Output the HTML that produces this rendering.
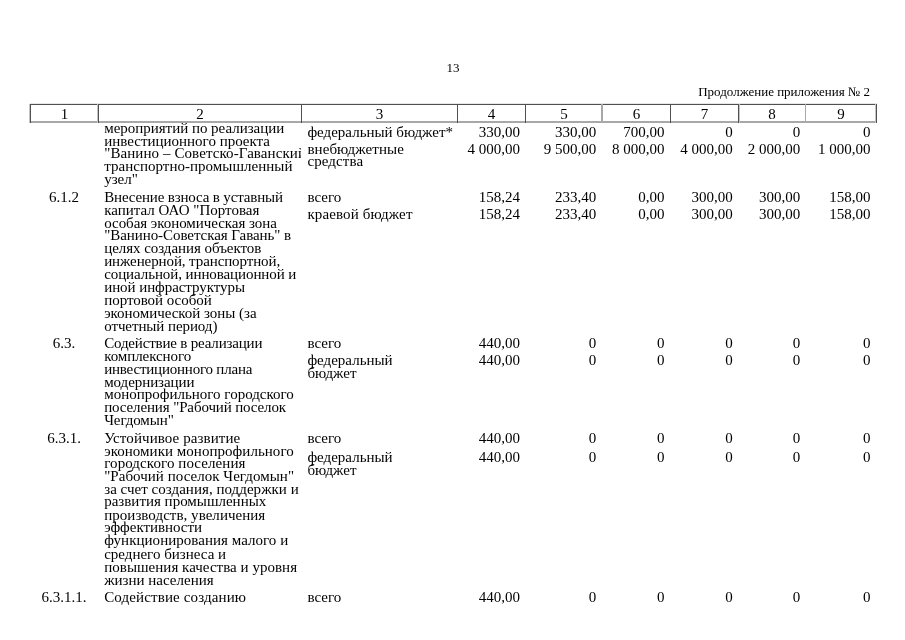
<!DOCTYPE html>
<html><head><meta charset="utf-8"><style>
html,body{margin:0;padding:0;background:#fff;}
body{width:905px;height:640px;position:relative;overflow:hidden;font-family:"Liberation Serif",serif;color:#000;}
#p{position:absolute;left:0;top:0;width:905px;height:640px;will-change:transform;}
.t{position:absolute;white-space:nowrap;}
.r{position:absolute;}
</style></head><body><div id="p">
<div class="r" style="left:30px;top:103px;width:847px;height:1px;background:#e6e6e6"></div>
<div class="r" style="left:30px;top:104px;width:847px;height:1px;background:#505050"></div>
<div class="r" style="left:30px;top:121px;width:847px;height:2px;background:#a8a8a8"></div>
<div class="r" style="left:29px;top:104px;width:1px;height:19px;background:#c4c4c4"></div>
<div class="r" style="left:30px;top:104px;width:1px;height:19px;background:#505050"></div>
<div class="r" style="left:97px;top:104px;width:1px;height:19px;background:#c4c4c4"></div>
<div class="r" style="left:98px;top:104px;width:1px;height:19px;background:#505050"></div>
<div class="r" style="left:301px;top:104px;width:1px;height:19px;background:#505050"></div>
<div class="r" style="left:457px;top:104px;width:1px;height:19px;background:#505050"></div>
<div class="r" style="left:525px;top:104px;width:1px;height:19px;background:#505050"></div>
<div class="r" style="left:601px;top:104px;width:1px;height:19px;background:#a8a8a8"></div>
<div class="r" style="left:602px;top:104px;width:1px;height:19px;background:#a8a8a8"></div>
<div class="r" style="left:670px;top:104px;width:1px;height:19px;background:#505050"></div>
<div class="r" style="left:738px;top:104px;width:1px;height:19px;background:#505050"></div>
<div class="r" style="left:739px;top:104px;width:1px;height:19px;background:#c4c4c4"></div>
<div class="r" style="left:805px;top:104px;width:1px;height:19px;background:#a8a8a8"></div>
<div class="r" style="left:875px;top:104px;width:1px;height:19px;background:#c4c4c4"></div>
<div class="r" style="left:876px;top:104px;width:1px;height:19px;background:#505050"></div>
<div class="t" style="left:446.4px;top:61.00px;font-size:13px;line-height:13px">13</div>
<div class="t" style="left:698.2px;top:84.60px;font-size:13px;line-height:13px">Продолжение приложения № 2</div>
<div class="t" style="left:31px;width:67px;top:107.30px;font-size:15px;line-height:15px;text-align:center">1</div>
<div class="t" style="left:99px;width:202px;top:107.30px;font-size:15px;line-height:15px;text-align:center">2</div>
<div class="t" style="left:302px;width:155px;top:107.30px;font-size:15px;line-height:15px;text-align:center">3</div>
<div class="t" style="left:458px;width:67px;top:107.30px;font-size:15px;line-height:15px;text-align:center">4</div>
<div class="t" style="left:526px;width:76px;top:107.30px;font-size:15px;line-height:15px;text-align:center">5</div>
<div class="t" style="left:603px;width:67px;top:107.30px;font-size:15px;line-height:15px;text-align:center">6</div>
<div class="t" style="left:671px;width:67px;top:107.30px;font-size:15px;line-height:15px;text-align:center">7</div>
<div class="t" style="left:739px;width:66px;top:107.30px;font-size:15px;line-height:15px;text-align:center">8</div>
<div class="t" style="left:806px;width:70px;top:107.30px;font-size:15px;line-height:15px;text-align:center">9</div>
<div class="t" style="left:104.2px;top:121.30px;font-size:15px;line-height:15px;width:196.8px;overflow:hidden;letter-spacing:-0.021px">мероприятий по реализации</div>
<div class="t" style="left:104.2px;top:134.30px;font-size:15px;line-height:15px;width:196.8px;overflow:hidden">инвестиционного проекта</div>
<div class="t" style="left:104.2px;top:146.30px;font-size:15px;line-height:15px;width:196.8px;overflow:hidden;letter-spacing:0.085px">"Ванино – Советско-Гаванский</div>
<div class="t" style="left:104.2px;top:159.30px;font-size:15px;line-height:15px;width:196.8px;overflow:hidden;letter-spacing:0.026px">транспортно-промышленный</div>
<div class="t" style="left:104.2px;top:172.30px;font-size:15px;line-height:15px;width:196.8px;overflow:hidden">узел"</div>
<div class="t" style="left:307.4px;top:125.30px;font-size:15px;line-height:15px">федеральный бюджет*</div>
<div class="t" style="left:307.4px;top:142.30px;font-size:15px;line-height:15px;letter-spacing:0.073px">внебюджетные</div>
<div class="t" style="left:307.4px;top:154.30px;font-size:15px;line-height:15px;letter-spacing:0.114px">средства</div>
<div class="t" style="right:384.90px;top:125.30px;font-size:15px;line-height:15px;text-align:right">330,00</div>
<div class="t" style="right:308.80px;top:125.30px;font-size:15px;line-height:15px;text-align:right">330,00</div>
<div class="t" style="right:240.50px;top:125.30px;font-size:15px;line-height:15px;text-align:right">700,00</div>
<div class="t" style="right:172.20px;top:125.30px;font-size:15px;line-height:15px;text-align:right">0</div>
<div class="t" style="right:104.70px;top:125.30px;font-size:15px;line-height:15px;text-align:right">0</div>
<div class="t" style="right:34.50px;top:125.30px;font-size:15px;line-height:15px;text-align:right">0</div>
<div class="t" style="right:384.90px;top:142.30px;font-size:15px;line-height:15px;text-align:right">4 000,00</div>
<div class="t" style="right:308.80px;top:142.30px;font-size:15px;line-height:15px;text-align:right">9 500,00</div>
<div class="t" style="right:240.50px;top:142.30px;font-size:15px;line-height:15px;text-align:right">8 000,00</div>
<div class="t" style="right:172.20px;top:142.30px;font-size:15px;line-height:15px;text-align:right">4 000,00</div>
<div class="t" style="right:104.70px;top:142.30px;font-size:15px;line-height:15px;text-align:right">2 000,00</div>
<div class="t" style="right:34.50px;top:142.30px;font-size:15px;line-height:15px;text-align:right">1 000,00</div>
<div class="t" style="left:30px;width:68px;top:189.55px;font-size:15px;line-height:15px;text-align:center">6.1.2</div>
<div class="t" style="left:104.2px;top:189.55px;font-size:15px;line-height:15px;letter-spacing:-0.160px">Внесение взноса в уставный</div>
<div class="t" style="left:104.2px;top:202.70px;font-size:15px;line-height:15px">капитал ОАО "Портовая</div>
<div class="t" style="left:104.2px;top:215.55px;font-size:15px;line-height:15px;letter-spacing:-0.046px">особая экономическая зона</div>
<div class="t" style="left:104.2px;top:228.30px;font-size:15px;line-height:15px;letter-spacing:-0.065px">"Ванино-Советская Гавань" в</div>
<div class="t" style="left:104.2px;top:240.90px;font-size:15px;line-height:15px;letter-spacing:-0.055px">целях создания объектов</div>
<div class="t" style="left:104.2px;top:253.90px;font-size:15px;line-height:15px;letter-spacing:-0.100px">инженерной, транспортной,</div>
<div class="t" style="left:104.2px;top:267.05px;font-size:15px;line-height:15px;letter-spacing:-0.088px">социальной, инновационной и</div>
<div class="t" style="left:104.2px;top:279.70px;font-size:15px;line-height:15px;letter-spacing:-0.067px">иной инфраструктуры</div>
<div class="t" style="left:104.2px;top:293.10px;font-size:15px;line-height:15px;letter-spacing:-0.043px">портовой особой</div>
<div class="t" style="left:104.2px;top:306.30px;font-size:15px;line-height:15px;letter-spacing:-0.029px">экономической зоны (за</div>
<div class="t" style="left:104.2px;top:318.90px;font-size:15px;line-height:15px;letter-spacing:-0.080px">отчетный период)</div>
<div class="t" style="left:307.4px;top:189.90px;font-size:15px;line-height:15px">всего</div>
<div class="t" style="left:307.4px;top:207.00px;font-size:15px;line-height:15px;letter-spacing:0.123px">краевой бюджет</div>
<div class="t" style="right:384.90px;top:189.90px;font-size:15px;line-height:15px;text-align:right">158,24</div>
<div class="t" style="right:308.80px;top:189.90px;font-size:15px;line-height:15px;text-align:right">233,40</div>
<div class="t" style="right:240.50px;top:189.90px;font-size:15px;line-height:15px;text-align:right">0,00</div>
<div class="t" style="right:172.20px;top:189.90px;font-size:15px;line-height:15px;text-align:right">300,00</div>
<div class="t" style="right:104.70px;top:189.90px;font-size:15px;line-height:15px;text-align:right">300,00</div>
<div class="t" style="right:34.50px;top:189.90px;font-size:15px;line-height:15px;text-align:right">158,00</div>
<div class="t" style="right:384.90px;top:207.00px;font-size:15px;line-height:15px;text-align:right">158,24</div>
<div class="t" style="right:308.80px;top:207.00px;font-size:15px;line-height:15px;text-align:right">233,40</div>
<div class="t" style="right:240.50px;top:207.00px;font-size:15px;line-height:15px;text-align:right">0,00</div>
<div class="t" style="right:172.20px;top:207.00px;font-size:15px;line-height:15px;text-align:right">300,00</div>
<div class="t" style="right:104.70px;top:207.00px;font-size:15px;line-height:15px;text-align:right">300,00</div>
<div class="t" style="right:34.50px;top:207.00px;font-size:15px;line-height:15px;text-align:right">158,00</div>
<div class="t" style="left:30px;width:68px;top:335.80px;font-size:15px;line-height:15px;text-align:center">6.3.</div>
<div class="t" style="left:104.2px;top:335.80px;font-size:15px;line-height:15px;letter-spacing:-0.182px">Содействие в реализации</div>
<div class="t" style="left:104.2px;top:349.10px;font-size:15px;line-height:15px;letter-spacing:-0.073px">комплексного</div>
<div class="t" style="left:104.2px;top:362.00px;font-size:15px;line-height:15px;letter-spacing:-0.205px">инвестиционного плана</div>
<div class="t" style="left:104.2px;top:374.55px;font-size:15px;line-height:15px;letter-spacing:-0.073px">модернизации</div>
<div class="t" style="left:104.2px;top:387.40px;font-size:15px;line-height:15px">монопрофильного городского</div>
<div class="t" style="left:104.2px;top:400.30px;font-size:15px;line-height:15px;letter-spacing:-0.128px">поселения "Рабочий поселок</div>
<div class="t" style="left:104.2px;top:412.90px;font-size:15px;line-height:15px;letter-spacing:-0.100px">Чегдомын"</div>
<div class="t" style="left:307.4px;top:336.00px;font-size:15px;line-height:15px">всего</div>
<div class="t" style="left:307.4px;top:353.40px;font-size:15px;line-height:15px">федеральный</div>
<div class="t" style="left:307.4px;top:365.90px;font-size:15px;line-height:15px">бюджет</div>
<div class="t" style="right:384.90px;top:336.10px;font-size:15px;line-height:15px;text-align:right">440,00</div>
<div class="t" style="right:308.80px;top:336.10px;font-size:15px;line-height:15px;text-align:right">0</div>
<div class="t" style="right:240.50px;top:336.10px;font-size:15px;line-height:15px;text-align:right">0</div>
<div class="t" style="right:172.20px;top:336.10px;font-size:15px;line-height:15px;text-align:right">0</div>
<div class="t" style="right:104.70px;top:336.10px;font-size:15px;line-height:15px;text-align:right">0</div>
<div class="t" style="right:34.50px;top:336.10px;font-size:15px;line-height:15px;text-align:right">0</div>
<div class="t" style="right:384.90px;top:353.10px;font-size:15px;line-height:15px;text-align:right">440,00</div>
<div class="t" style="right:308.80px;top:353.10px;font-size:15px;line-height:15px;text-align:right">0</div>
<div class="t" style="right:240.50px;top:353.10px;font-size:15px;line-height:15px;text-align:right">0</div>
<div class="t" style="right:172.20px;top:353.10px;font-size:15px;line-height:15px;text-align:right">0</div>
<div class="t" style="right:104.70px;top:353.10px;font-size:15px;line-height:15px;text-align:right">0</div>
<div class="t" style="right:34.50px;top:353.10px;font-size:15px;line-height:15px;text-align:right">0</div>
<div class="t" style="left:30px;width:68px;top:430.50px;font-size:15px;line-height:15px;text-align:center">6.3.1.</div>
<div class="t" style="left:104.2px;top:430.50px;font-size:15px;line-height:15px;letter-spacing:0.089px">Устойчивое развитие</div>
<div class="t" style="left:104.2px;top:443.60px;font-size:15px;line-height:15px;letter-spacing:0.033px">экономики монопрофильного</div>
<div class="t" style="left:104.2px;top:456.30px;font-size:15px;line-height:15px;letter-spacing:0.084px">городского поселения</div>
<div class="t" style="left:104.2px;top:469.40px;font-size:15px;line-height:15px;letter-spacing:0.032px">"Рабочий поселок Чегдомын"</div>
<div class="t" style="left:104.2px;top:481.70px;font-size:15px;line-height:15px;letter-spacing:0.029px">за счет создания, поддержки и</div>
<div class="t" style="left:104.2px;top:494.40px;font-size:15px;line-height:15px">развития промышленных</div>
<div class="t" style="left:104.2px;top:507.50px;font-size:15px;line-height:15px;letter-spacing:0.036px">производств, увеличения</div>
<div class="t" style="left:104.2px;top:520.20px;font-size:15px;line-height:15px;letter-spacing:-0.042px">эффективности</div>
<div class="t" style="left:104.2px;top:533.30px;font-size:15px;line-height:15px;letter-spacing:0.033px">функционирования малого и</div>
<div class="t" style="left:104.2px;top:546.90px;font-size:15px;line-height:15px">среднего бизнеса и</div>
<div class="t" style="left:104.2px;top:560.00px;font-size:15px;line-height:15px;letter-spacing:0.031px">повышения качества и уровня</div>
<div class="t" style="left:104.2px;top:572.90px;font-size:15px;line-height:15px">жизни населения</div>
<div class="t" style="left:307.4px;top:430.50px;font-size:15px;line-height:15px">всего</div>
<div class="t" style="left:307.4px;top:450.00px;font-size:15px;line-height:15px">федеральный</div>
<div class="t" style="left:307.4px;top:462.90px;font-size:15px;line-height:15px">бюджет</div>
<div class="t" style="right:384.90px;top:430.80px;font-size:15px;line-height:15px;text-align:right">440,00</div>
<div class="t" style="right:308.80px;top:430.80px;font-size:15px;line-height:15px;text-align:right">0</div>
<div class="t" style="right:240.50px;top:430.80px;font-size:15px;line-height:15px;text-align:right">0</div>
<div class="t" style="right:172.20px;top:430.80px;font-size:15px;line-height:15px;text-align:right">0</div>
<div class="t" style="right:104.70px;top:430.80px;font-size:15px;line-height:15px;text-align:right">0</div>
<div class="t" style="right:34.50px;top:430.80px;font-size:15px;line-height:15px;text-align:right">0</div>
<div class="t" style="right:384.90px;top:450.20px;font-size:15px;line-height:15px;text-align:right">440,00</div>
<div class="t" style="right:308.80px;top:450.20px;font-size:15px;line-height:15px;text-align:right">0</div>
<div class="t" style="right:240.50px;top:450.20px;font-size:15px;line-height:15px;text-align:right">0</div>
<div class="t" style="right:172.20px;top:450.20px;font-size:15px;line-height:15px;text-align:right">0</div>
<div class="t" style="right:104.70px;top:450.20px;font-size:15px;line-height:15px;text-align:right">0</div>
<div class="t" style="right:34.50px;top:450.20px;font-size:15px;line-height:15px;text-align:right">0</div>
<div class="t" style="left:30px;width:68px;top:590.00px;font-size:15px;line-height:15px;text-align:center">6.3.1.1.</div>
<div class="t" style="left:104.2px;top:589.80px;font-size:15px;line-height:15px;letter-spacing:0.133px">Содействие созданию</div>
<div class="t" style="left:307.4px;top:589.90px;font-size:15px;line-height:15px">всего</div>
<div class="t" style="right:384.90px;top:590.00px;font-size:15px;line-height:15px;text-align:right">440,00</div>
<div class="t" style="right:308.80px;top:590.00px;font-size:15px;line-height:15px;text-align:right">0</div>
<div class="t" style="right:240.50px;top:590.00px;font-size:15px;line-height:15px;text-align:right">0</div>
<div class="t" style="right:172.20px;top:590.00px;font-size:15px;line-height:15px;text-align:right">0</div>
<div class="t" style="right:104.70px;top:590.00px;font-size:15px;line-height:15px;text-align:right">0</div>
<div class="t" style="right:34.50px;top:590.00px;font-size:15px;line-height:15px;text-align:right">0</div>
</div></body></html>
